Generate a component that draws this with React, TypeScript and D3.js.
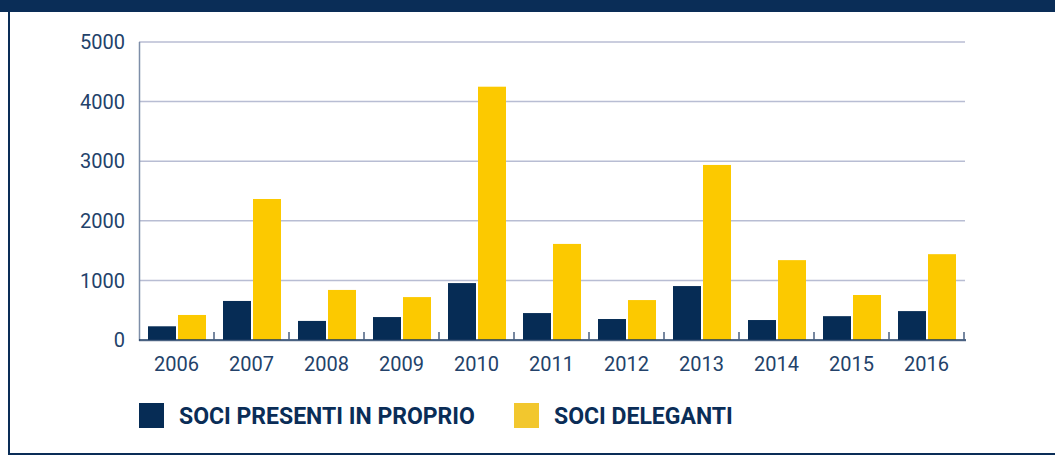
import React from 'react';
import * as d3 from 'd3';

const years = ['2006', '2007', '2008', '2009', '2010', '2011', '2012', '2013', '2014', '2015', '2016'];
const presenti = [230, 655, 320, 385, 955, 452, 352, 905, 335, 400, 485];
const deleganti = [420, 2366, 840, 720, 4250, 1612, 670, 2937, 1340, 755, 1440];
const yTicks = [0, 1000, 2000, 3000, 4000, 5000];
const seriesNames = ['SOCI PRESENTI IN PROPRIO', 'SOCI DELEGANTI'];

const NAVY = '#062c55';
const YELLOW = '#fcc900';
const TEXT = '#23426a';
const FONT = 'Roboto, sans-serif';

export default function App() {
  const W = 1055;
  const H = 456;

  const x = d3.scaleBand<string>().domain(years).range([139, 964]).padding(0);
  const inner = d3.scaleBand<string>()
    .domain(['p', 'd'])
    .range([9, 67])
    .paddingInner(2 / 30)
    .paddingOuter(0);
  const y = d3.scaleLinear().domain([0, 5000]).range([340, 42]);

  const series = [
    { key: 'p', values: presenti, color: NAVY },
    { key: 'd', values: deleganti, color: YELLOW },
  ];

  const boundaries = years.map((yr) => (x(yr) as number) + x.bandwidth());

  return (
    <svg width={W} height={H} style={{ position: 'absolute', left: 0, top: 0 }}>
      <rect x={0} y={0} width={W} height={H} fill="#fff" />
      {/* frame */}
      <rect x={0} y={0} width={W} height={12} fill="#0a2d57" />
      <rect x={8} y={12} width={2} height={443} fill="#0a2d57" />
      <rect x={8} y={453} width={W - 8} height={2} fill="#0a2d57" />

      {/* grid */}
      {yTicks.filter((t) => t > 0).map((t) => (
        <line key={t} x1={139} x2={965} y1={y(t)} y2={y(t)} stroke="#b8bdd3" strokeWidth={1.5} />
      ))}
      {yTicks.map((t) => (
        <text key={'l' + t} x={125} y={y(t)} dy="0.36em" textAnchor="end"
          fontFamily={FONT} fontSize={20} fill={TEXT}>{t}</text>
      ))}

      {/* bars */}
      {series.map((s) => years.map((yr, i) => (
        <rect key={s.key + yr}
          x={(x(yr) as number) + (inner(s.key) as number)}
          y={y(s.values[i])}
          width={inner.bandwidth()}
          height={y(0) - y(s.values[i])}
          fill={s.color} />
      )))}

      {/* axes */}
      <line x1={139.5} x2={139.5} y1={42} y2={341} stroke="#7e8ea8" strokeWidth={1.5} />
      <line x1={139} x2={966} y1={341} y2={341} stroke="#b0b8c8" strokeWidth={1} />
      <line x1={139} x2={966} y1={340} y2={340} stroke="#1a3960" strokeWidth={1.5} />
      {boundaries.map((bx, i) => (
        <line key={'t' + i} x1={bx} x2={bx} y1={332} y2={340} stroke="#4a6080" strokeWidth={1.5} />
      ))}
      {years.map((yr) => (
        <text key={'x' + yr} x={(x(yr) as number) + x.bandwidth() / 2} y={371}
          textAnchor="middle" fontFamily={FONT} fontSize={20} fill={TEXT}>{yr}</text>
      ))}

      {/* legend */}
      <rect x={139} y={403} width={25} height={25} fill={NAVY} />
      <text x={179} y={423.5} fontFamily={FONT} fontWeight="bold" fontSize={23} fill="#0a2d57">{seriesNames[0]}</text>
      <rect x={514} y={403} width={25} height={25} fill="#f2c72e" />
      <text x={554} y={423.5} fontFamily={FONT} fontWeight="bold" fontSize={23} fill="#0a2d57">{seriesNames[1]}</text>
    </svg>
  );
}
